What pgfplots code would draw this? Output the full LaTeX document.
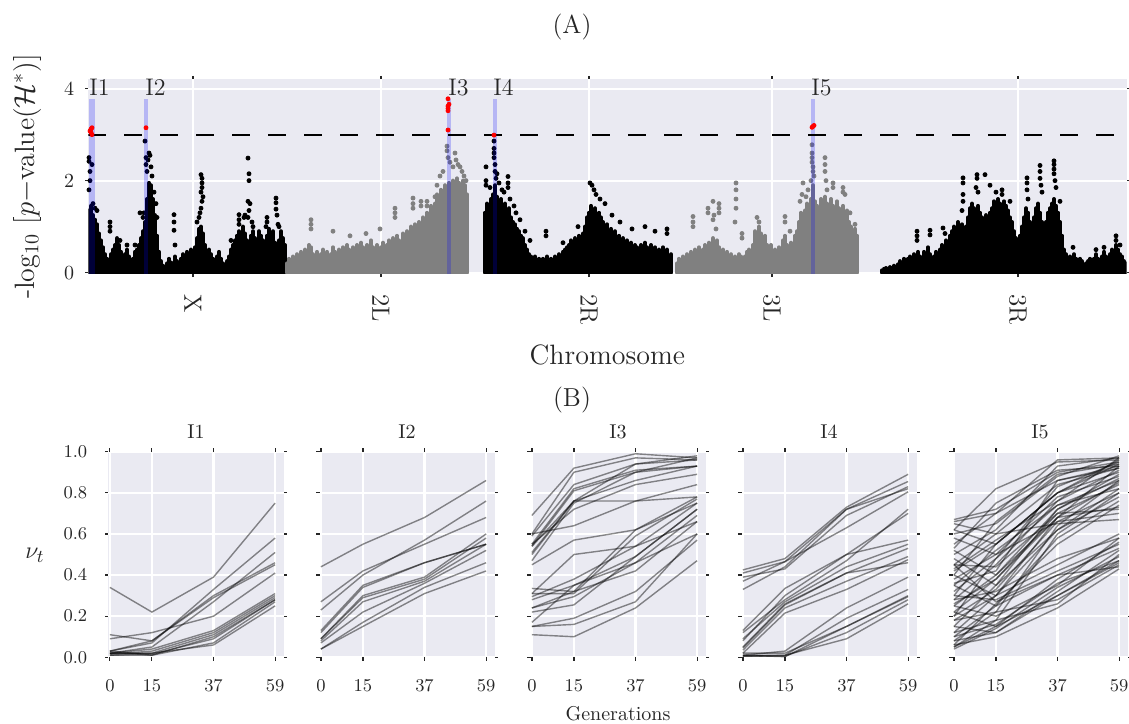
\documentclass[border=0pt]{standalone}
\usepackage{fontspec}
\usepackage{pgfplots}
\pgfplotsset{compat=1.18}
\definecolor{bgc}{RGB}{234,234,242}
\definecolor{txt}{RGB}{38,38,38}
\definecolor{ptgray}{RGB}{128,128,128}
\newcommand{\traj}[4]{\addplot[traj] coordinates {(0,#1)(15,#2)(37,#3)(59,#4)};}
\begin{document}
\begin{tikzpicture}
\useasboundingbox (0pt,0pt) rectangle (564.5pt,361.5pt);
\pgfplotsset{
  sb/.style={scale only axis, axis background/.style={fill=bgc},
    axis line style={draw=none}, grid=major,
    major grid style={white, line width=1.1pt},
    tick align=outside, major tick length=1.6pt,
    tick style={txt, line width=0.6pt}, tick pos=both,
    clip mode=individual, ticklabel style={text=txt}, label style={text=txt}},
  bars/.style={ycomb, line width=2pt, line cap=round, mark=none},
  dots/.style={only marks, mark=*, mark size=1pt},
  traj/.style={black, opacity=0.45, line width=0.7pt, mark=none},
  bp/.style={sb, width=87.5pt, height=102.8pt, xmin=-0.5, xmax=62, ymin=0, ymax=1,
    xtick={0,15,37,59}, ytick={0,0.2,0.4,0.6,0.8,1.0},
    ticklabel style={font=\fontsize{9.5}{11}\selectfont},
    yticklabel style={xshift=-5.5pt, /pgf/number format/.cd, fixed, fixed zerofill, precision=1},
    xticklabel shift=6pt,
    title style={at={(0.5,1)}, anchor=center, yshift=4pt, font=\fontsize{10}{12}\selectfont, text=txt},
    anchor=south west},
}
\node[text=txt, font=\fontsize{13}{15}\selectfont] at (286pt,348pt) {(A)};
\node[text=txt, font=\fontsize{13}{15}\selectfont] at (286pt,161.5pt) {(B)};
\begin{axis}[sb, at={(44.15pt,224.5pt)}, anchor=south west, width=519.1pt, height=97.5pt,
  xmin=88.3, xmax=1126.5, ymin=-0.03, ymax=4.21,
  xtick={193,381,589,772,1018}, xticklabels={X,2L,2R,3L,3R}, ytick={0,2,4},
  xticklabel style={rotate=-90, anchor=west, font=\fontsize{12.5}{14}\selectfont},
  xticklabel shift=5pt,
  yticklabel style={font=\fontsize{10}{12}\selectfont, xshift=-2pt},
  xlabel={Chromosome}, ylabel={-log$_{10}$ [$p-$value($\mathcal{H}^*$)]},
  label style={font=\fontsize{14}{16}\selectfont},
  xlabel style={at={(axis description cs:0.5,0)}, anchor=center, yshift=-40.25pt},
  ylabel style={at={(axis description cs:0,0.5)}, anchor=center, yshift=30.6pt},
]
% X chromosome (black)
\addplot[bars, black] table[row sep=\\] {x y\\
89 1.35\\ 91 1.45\\ 93 1.25\\ 95 1.15\\ 97 1.05\\ 99 0.85\\ 101 0.7\\ 103 0.55\\ 105 0.4\\ 107 0.3\\
109 0.25\\ 111 0.4\\ 113 0.5\\ 115 0.6\\ 117 0.75\\ 119 0.6\\ 121 0.45\\ 123 0.3\\ 125 0.4\\ 127 0.5\\
129 0.35\\ 131 0.25\\ 133 0.3\\ 135 0.45\\ 137 0.5\\ 139 0.6\\ 141 0.75\\ 143 0.9\\ 145 1.1\\ 147 1.6\\
149 1.95\\ 151 1.9\\ 153 1.6\\ 155 1.25\\ 157 0.8\\ 159 0.45\\ 161 0.25\\ 163 0.15\\ 165 0.12\\ 167 0.2\\
169 0.3\\ 171 0.22\\ 173 0.2\\ 175 0.35\\ 177 0.25\\ 179 0.2\\ 181 0.3\\ 183 0.4\\ 185 0.3\\ 187 0.45\\
189 0.35\\ 191 0.5\\ 193 0.4\\ 195 0.55\\ 197 0.75\\ 199 0.95\\ 201 1.0\\ 203 0.85\\ 205 0.6\\ 207 0.45\\
209 0.5\\ 211 0.4\\ 213 0.3\\ 215 0.25\\ 217 0.35\\ 219 0.45\\ 221 0.3\\ 223 0.2\\ 225 0.15\\ 227 0.25\\
229 0.35\\ 231 0.5\\ 233 0.6\\ 235 0.7\\ 237 0.8\\ 239 0.9\\ 241 0.75\\ 243 1.0\\ 245 0.85\\ 247 0.7\\
249 0.6\\ 251 0.8\\ 253 0.9\\ 255 0.75\\ 257 0.65\\ 259 0.9\\ 261 0.8\\ 263 0.7\\ 265 0.6\\ 267 0.8\\
269 0.95\\ 271 0.75\\ 273 0.9\\ 275 0.65\\ 277 0.55\\ 279 0.7\\ 281 0.9\\ 283 0.75\\ 285 0.6\\
};
\addplot[dots, black] table[row sep=\\] {x y\\
89 2.5\\ 89 2.42\\ 90 2.2\\ 90 2.0\\ 89 1.8\\ 92 2.35\\ 93 1.5\\ 95 1.4\\ 97 1.35\\ 110 1.1\\ 110 1.0\\ 110 0.9\\
120 0.7\\ 127 0.6\\ 135 0.6\\ 145 2.86\\ 146 2.5\\ 146 2.35\\ 147 2.2\\ 148 2.45\\ 149 2.6\\ 150 2.55\\
151 2.3\\ 152 2.1\\ 144 1.3\\ 143 1.2\\ 140 1.3\\ 154 1.75\\ 156 1.5\\ 157 1.2\\ 174 1.26\\ 174 1.1\\
174 0.92\\ 175 0.6\\ 201 2.13\\ 202 2.05\\ 202 1.95\\ 202 1.85\\ 201 1.75\\ 203 1.65\\ 202 1.55\\ 201 1.4\\
200 1.3\\ 199 1.2\\ 197 1.1\\ 231 0.7\\ 239 1.26\\ 239 1.15\\ 239 1.05\\ 244 1.2\\ 245 1.25\\ 248 2.49\\
249 2.15\\ 249 2.0\\ 248 1.55\\ 250 1.5\\ 249 1.35\\ 248 1.2\\ 252 1.1\\ 253 1.0\\ 267 1.2\\ 267 1.1\\
266 1.0\\ 276 1.62\\ 276 1.52\\ 276 1.38\\ 277 1.25\\ 278 1.05\\ 279 1.0\\
};
% 2L (gray)
\addplot[bars, ptgray] table[row sep=\\] {x y\\
287 0.2\\ 289 0.3\\ 291 0.25\\ 293 0.35\\ 295 0.3\\ 297 0.4\\ 299 0.35\\ 301 0.45\\ 303 0.3\\ 305 0.5\\
307 0.4\\ 309 0.6\\ 311 0.55\\ 313 0.4\\ 315 0.35\\ 317 0.45\\ 319 0.3\\ 321 0.4\\ 323 0.5\\ 325 0.35\\
327 0.45\\ 329 0.3\\ 331 0.4\\ 333 0.55\\ 335 0.45\\ 337 0.35\\ 339 0.5\\ 341 0.4\\ 343 0.55\\ 345 0.45\\
347 0.6\\ 349 0.5\\ 351 0.4\\ 353 0.55\\ 355 0.45\\ 357 0.6\\ 359 0.5\\ 361 0.65\\ 363 0.55\\ 365 0.45\\
367 0.6\\ 369 0.5\\ 371 0.7\\ 373 0.55\\ 375 0.45\\ 377 0.6\\ 379 0.5\\ 381 0.55\\ 383 0.65\\ 385 0.5\\
387 0.6\\ 389 0.7\\ 391 0.55\\ 393 0.75\\ 395 0.6\\ 397 0.8\\ 399 0.7\\ 401 0.6\\ 403 0.85\\ 405 0.75\\
407 0.9\\ 409 0.8\\ 411 1.0\\ 413 0.85\\ 415 1.05\\ 417 0.95\\ 419 1.1\\ 421 1.0\\ 423 1.2\\ 425 1.1\\
427 1.3\\ 429 1.2\\ 431 1.45\\ 433 1.35\\ 435 1.5\\ 437 1.7\\ 439 1.6\\ 441 1.8\\ 443 1.7\\ 445 1.9\\
447 1.8\\ 449 1.95\\ 451 1.85\\ 453 2.0\\ 455 1.9\\ 457 2.05\\ 459 1.95\\ 461 1.85\\ 463 2.0\\ 465 1.9\\
467 1.7\\
};
\addplot[dots, ptgray] table[row sep=\\] {x y\\
311 1.15\\ 311 1.05\\ 311 0.95\\ 333 0.9\\ 350 0.8\\ 366 0.85\\ 380 0.95\\ 395 1.4\\ 395 1.3\\ 395 1.2\\
413 1.62\\ 413 1.5\\ 413 1.4\\ 421 1.55\\ 421 1.45\\ 427 1.55\\ 427 1.45\\ 435 1.65\\ 437 1.9\\ 440 2.1\\
443 2.2\\ 447 2.75\\ 447 2.65\\ 448 2.5\\ 450 2.4\\ 453 2.3\\ 455 2.6\\ 456 2.45\\ 458 2.35\\ 460 2.3\\
462 2.2\\ 464 2.1\\ 466 2.0\\
};
% 2R (black)
\addplot[bars, black] table[row sep=\\] {x y\\
485 1.3\\ 487 1.5\\ 489 1.45\\ 491 1.6\\ 493 1.7\\ 495 1.9\\ 497 1.65\\ 499 1.55\\ 501 1.6\\ 503 1.45\\
505 1.5\\ 507 1.35\\ 509 1.4\\ 511 1.2\\ 513 1.1\\ 515 1.05\\ 517 0.95\\ 519 0.9\\ 521 0.8\\ 523 0.75\\
525 0.6\\ 527 0.5\\ 529 0.4\\ 531 0.35\\ 533 0.3\\ 535 0.35\\ 537 0.25\\ 539 0.3\\ 541 0.2\\ 543 0.3\\
545 0.25\\ 547 0.35\\ 549 0.2\\ 551 0.3\\ 553 0.25\\ 555 0.35\\ 557 0.3\\ 559 0.4\\ 561 0.3\\ 563 0.45\\
565 0.5\\ 567 0.55\\ 569 0.6\\ 571 0.7\\ 573 0.65\\ 575 0.75\\ 577 0.7\\ 579 0.8\\ 581 0.75\\ 583 0.85\\
585 1.0\\ 587 1.2\\ 589 1.3\\ 591 1.45\\ 593 1.35\\ 595 1.4\\ 597 1.25\\ 599 1.3\\ 601 1.2\\ 603 1.1\\
605 1.0\\ 607 1.05\\ 609 0.9\\ 611 0.95\\ 613 0.85\\ 615 0.9\\ 617 0.75\\ 619 0.8\\ 621 0.7\\ 623 0.75\\
625 0.6\\ 627 0.7\\ 629 0.55\\ 631 0.65\\ 633 0.5\\ 635 0.6\\ 637 0.55\\ 639 0.45\\ 641 0.6\\ 643 0.5\\
645 0.65\\ 647 0.55\\ 649 0.45\\ 651 0.6\\ 653 0.5\\ 655 0.55\\ 657 0.45\\ 659 0.5\\ 661 0.4\\ 663 0.55\\
665 0.45\\ 667 0.5\\ 669 0.35\\ 671 0.4\\
};
\addplot[dots, black] table[row sep=\\] {x y\\
486 2.3\\ 486 2.0\\ 486 1.9\\ 490 1.85\\ 494 2.86\\ 494 2.7\\ 494 2.6\\ 494 2.5\\ 495 2.35\\ 495 2.2\\
496 2.05\\ 497 2.15\\ 499 1.95\\ 502 1.8\\ 504 1.75\\ 508 2.09\\ 508 1.95\\ 508 1.85\\ 510 1.6\\ 514 1.45\\
516 1.3\\ 520 1.15\\ 525 0.9\\ 530 0.7\\ 546 0.9\\ 546 0.8\\ 563 0.65\\ 578 1.0\\ 590 1.95\\ 592 1.9\\
594 1.8\\ 596 1.7\\ 600 1.6\\ 605 1.5\\ 612 1.25\\ 620 1.1\\ 632 0.95\\ 645 1.0\\ 655 0.9\\ 667 0.95\\
667 0.85\\
};
% 3L (gray)
\addplot[bars, ptgray] table[row sep=\\] {x y\\
677 0.2\\ 679 0.3\\ 681 0.25\\ 683 0.35\\ 685 0.3\\ 687 0.4\\ 689 0.35\\ 691 0.45\\ 693 0.4\\ 695 0.5\\
697 0.45\\ 699 0.55\\ 701 0.4\\ 703 0.5\\ 705 0.6\\ 707 0.5\\ 709 0.65\\ 711 0.55\\ 713 0.75\\ 715 0.6\\
717 0.7\\ 719 0.55\\ 721 0.45\\ 723 0.5\\ 725 0.4\\ 727 0.45\\ 729 0.35\\ 731 0.4\\ 733 0.3\\ 735 0.35\\
737 0.3\\ 739 0.4\\ 741 0.35\\ 743 0.3\\ 745 0.35\\ 747 0.45\\ 749 0.5\\ 751 0.4\\ 753 0.6\\ 755 0.9\\
757 0.8\\ 759 1.0\\ 761 0.85\\ 763 0.7\\ 765 0.8\\ 767 0.6\\ 769 0.5\\ 771 0.6\\ 773 0.45\\ 775 0.5\\
777 0.4\\ 779 0.55\\ 781 0.45\\ 783 0.7\\ 785 0.8\\ 787 0.6\\ 789 0.5\\ 791 0.65\\ 793 0.55\\ 795 0.8\\
797 0.9\\ 799 1.1\\ 801 1.3\\ 803 1.2\\ 805 1.35\\ 807 1.5\\ 809 1.45\\ 811 1.6\\ 813 1.9\\ 815 1.55\\
817 1.45\\ 819 1.4\\ 821 1.6\\ 823 1.45\\ 825 1.65\\ 827 1.5\\ 829 1.4\\ 831 1.6\\ 833 1.45\\ 835 1.35\\
837 1.55\\ 839 1.4\\ 841 1.3\\ 843 1.45\\ 845 1.25\\ 847 1.35\\ 849 1.1\\ 851 1.0\\ 853 0.9\\ 855 0.95\\
857 0.8\\
};
\addplot[dots, ptgray] table[row sep=\\] {x y\\
693 1.22\\ 693 1.1\\ 693 1.0\\ 708 1.4\\ 708 1.3\\ 713 1.55\\ 714 1.25\\ 713 1.15\\ 716 0.95\\ 736 1.95\\
736 1.8\\ 736 1.6\\ 736 1.4\\ 735 1.1\\ 719 1.5\\ 719 1.4\\ 719 1.3\\ 742 0.85\\ 742 0.75\\ 757 1.2\\
759 1.1\\ 785 1.22\\ 785 1.1\\ 790 0.9\\ 800 1.55\\ 802 1.7\\ 803 1.95\\ 806 1.65\\ 808 1.8\\ 811 2.0\\
812 2.78\\ 812 2.6\\ 812 2.5\\ 812 2.4\\ 813 2.3\\ 813 2.2\\ 814 2.1\\ 825 2.5\\ 825 2.35\\ 825 2.2\\
826 2.0\\ 827 1.8\\ 833 1.95\\ 833 1.85\\ 843 1.85\\ 843 1.75\\ 845 1.7\\ 850 1.3\\ 855 1.05\\
};
% 3R (black)
\addplot[bars, black] table[row sep=\\] {x y\\
882 0.05\\ 884 0.08\\ 886 0.1\\ 888 0.08\\ 890 0.12\\ 892 0.1\\ 894 0.15\\ 896 0.12\\ 898 0.18\\ 900 0.25\\
902 0.2\\ 904 0.3\\ 906 0.25\\ 908 0.3\\ 910 0.35\\ 912 0.25\\ 914 0.4\\ 916 0.3\\ 918 0.45\\ 920 0.35\\
922 0.3\\ 924 0.45\\ 926 0.4\\ 928 0.55\\ 930 0.4\\ 932 0.3\\ 934 0.35\\ 936 0.45\\ 938 0.4\\ 940 0.5\\
942 0.6\\ 944 0.5\\ 946 0.7\\ 948 0.6\\ 950 0.8\\ 952 0.9\\ 954 1.0\\ 956 0.85\\ 958 1.1\\ 960 0.9\\
962 1.05\\ 964 0.9\\ 966 1.0\\ 968 1.2\\ 970 1.4\\ 972 1.5\\ 974 1.4\\ 976 1.3\\ 978 1.45\\ 980 1.3\\
982 1.2\\ 984 1.1\\ 986 1.25\\ 988 1.15\\ 990 1.3\\ 992 1.4\\ 994 1.55\\ 996 1.45\\ 998 1.6\\ 1000 1.5\\
1002 1.4\\ 1004 1.55\\ 1006 1.45\\ 1008 1.35\\ 1010 1.2\\ 1012 1.1\\ 1014 0.9\\ 1016 0.75\\ 1018 0.6\\ 1020 0.8\\
1022 1.0\\ 1024 1.2\\ 1026 1.4\\ 1028 1.3\\ 1030 1.1\\ 1032 1.0\\ 1034 1.2\\ 1036 1.4\\ 1038 1.5\\ 1040 1.3\\
1042 1.1\\ 1044 0.9\\ 1046 1.1\\ 1048 1.3\\ 1050 1.4\\ 1052 1.5\\ 1054 1.6\\ 1056 1.45\\ 1058 1.3\\ 1060 1.1\\
1062 0.8\\ 1064 0.5\\ 1066 0.4\\ 1068 0.3\\ 1070 0.35\\ 1072 0.25\\ 1074 0.4\\ 1076 0.3\\ 1078 0.2\\ 1080 0.3\\
1082 0.25\\ 1084 0.15\\ 1086 0.2\\ 1088 0.25\\ 1090 0.3\\ 1092 0.2\\ 1094 0.3\\ 1096 0.4\\ 1098 0.3\\ 1100 0.25\\
1102 0.35\\ 1104 0.45\\ 1106 0.35\\ 1108 0.3\\ 1110 0.4\\ 1112 0.5\\ 1114 0.45\\ 1116 0.6\\ 1118 0.5\\ 1120 0.4\\
1122 0.35\\ 1124 0.25\\ 1126 0.2\\
};
\addplot[dots, black] table[row sep=\\] {x y\\
917 0.9\\ 917 0.8\\ 917 0.7\\ 930 0.92\\ 930 0.82\\ 943 0.97\\ 945 0.85\\ 963 2.06\\ 963 1.95\\ 963 1.7\\
963 1.55\\ 962 1.35\\ 977 2.13\\ 977 2.05\\ 976 1.85\\ 978 1.75\\ 985 2.13\\ 990 1.9\\ 996 1.75\\ 1002 1.8\\
1002 1.7\\ 1010 1.55\\ 1027 2.06\\ 1027 1.95\\ 1027 1.8\\ 1028 1.6\\ 1040 2.33\\ 1040 2.2\\ 1040 2.05\\ 1041 1.9\\
1042 1.75\\ 1054 2.43\\ 1054 2.35\\ 1054 2.25\\ 1054 2.15\\ 1055 2.0\\ 1056 1.85\\ 1060 1.55\\ 1073 0.55\\ 1096 0.5\\
1104 0.55\\ 1116 0.8\\ 1116 0.7\\ 1120 0.6\\
};
% candidate intervals
\addplot[blue, opacity=0.22, line width=3pt] coordinates {(91.7,-0.03)(91.7,3.78)};
\addplot[blue, opacity=0.22, line width=2pt] coordinates {(146,-0.03)(146,3.78)};
\addplot[blue, opacity=0.22, line width=2pt] coordinates {(449,-0.03)(449,3.78)};
\addplot[blue, opacity=0.22, line width=2pt] coordinates {(494.5,-0.03)(494.5,3.78)};
\addplot[blue, opacity=0.22, line width=2pt] coordinates {(813,-0.03)(813,3.78)};
\addplot[black, line width=0.9pt, dash pattern=on 9pt off 9pt] coordinates {(88.3,3)(1126.5,3)};
\addplot[dots, red] table[row sep=\\] {x y\\
91 3.05\\ 91 3.12\\ 92 3.0\\ 90 3.08\\ 92 3.15\\ 146 3.15\\ 448 3.78\\ 448 3.62\\ 448 3.57\\ 448 3.52\\
449 3.66\\ 448 3.1\\ 494 2.99\\ 813 3.18\\ 814 3.2\\ 812 3.16\\
};
\node[anchor=west, inner sep=0pt, text=txt, font=\fontsize{12}{14}\selectfont] at (axis cs:89,4.03) {I1};
\node[anchor=west, inner sep=0pt, text=txt, font=\fontsize{12}{14}\selectfont] at (axis cs:145,4.03) {I2};
\node[anchor=west, inner sep=0pt, text=txt, font=\fontsize{12}{14}\selectfont] at (axis cs:448,4.03) {I3};
\node[anchor=west, inner sep=0pt, text=txt, font=\fontsize{12}{14}\selectfont] at (axis cs:493,4.03) {I4};
\node[anchor=west, inner sep=0pt, text=txt, font=\fontsize{12}{14}\selectfont] at (axis cs:811,4.03) {I5};
\end{axis}
% ---------- panel I1
\begin{axis}[bp, at={(54.25pt,32.85pt)}, title={I1}, ylabel={$\nu_t$},
  ylabel style={at={(axis description cs:0,0.5)}, anchor=center, rotate=-90, xshift=-36.75pt, yshift=-0.5pt, font=\fontsize{13}{15}\selectfont}]
\traj{0.34}{0.22}{0.39}{0.75}
\traj{0.09}{0.12}{0.20}{0.41}
\traj{0.11}{0.08}{0.30}{0.46}
\traj{0.03}{0.08}{0.29}{0.45}
\traj{0.03}{0.07}{0.33}{0.58}
\traj{0.02}{0.05}{0.27}{0.51}
\traj{0.02}{0.04}{0.13}{0.31}
\traj{0.015}{0.03}{0.12}{0.30}
\traj{0.01}{0.02}{0.11}{0.29}
\traj{0.03}{0.01}{0.10}{0.28}
\traj{0.02}{0.015}{0.09}{0.28}
\traj{0.01}{0.01}{0.07}{0.27}
\traj{0.02}{0.02}{0.06}{0.25}
\end{axis}
% ---------- panel I2
\begin{axis}[bp, at={(159.75pt,32.85pt)}, title={I2}, yticklabels={}]
\traj{0.44}{0.55}{0.68}{0.86}
\traj{0.27}{0.42}{0.55}{0.68}
\traj{0.23}{0.40}{0.57}{0.76}
\traj{0.13}{0.35}{0.46}{0.55}
\traj{0.12}{0.34}{0.46}{0.55}
\traj{0.09}{0.30}{0.39}{0.60}
\traj{0.09}{0.29}{0.38}{0.58}
\traj{0.08}{0.27}{0.37}{0.55}
\traj{0.07}{0.22}{0.36}{0.52}
\traj{0.04}{0.17}{0.34}{0.46}
\traj{0.04}{0.15}{0.31}{0.42}
\end{axis}
% ---------- panel I3
\begin{axis}[bp, at={(265.25pt,32.85pt)}, title={I3}, yticklabels={}, xlabel={Generations},
  xlabel style={at={(axis description cs:0.5,0)}, anchor=center, yshift=-28.3pt, font=\fontsize{10}{12}\selectfont}]
\traj{0.69}{0.92}{0.99}{0.97}
\traj{0.60}{0.90}{0.97}{0.96}
\traj{0.59}{0.84}{0.94}{0.98}
\traj{0.55}{0.82}{0.91}{0.93}
\traj{0.54}{0.81}{0.90}{0.97}
\traj{0.51}{0.76}{0.86}{0.93}
\traj{0.47}{0.75}{0.90}{0.93}
\traj{0.55}{0.72}{0.84}{0.89}
\traj{0.50}{0.76}{0.94}{0.96}
\traj{0.60}{0.64}{0.76}{0.84}
\traj{0.54}{0.76}{0.76}{0.78}
\traj{0.45}{0.57}{0.62}{0.75}
\traj{0.31}{0.50}{0.54}{0.66}
\traj{0.335}{0.32}{0.62}{0.78}
\traj{0.31}{0.31}{0.59}{0.77}
\traj{0.295}{0.38}{0.54}{0.75}
\traj{0.28}{0.35}{0.49}{0.72}
\traj{0.24}{0.295}{0.46}{0.69}
\traj{0.22}{0.255}{0.49}{0.72}
\traj{0.24}{0.32}{0.42}{0.66}
\traj{0.17}{0.35}{0.46}{0.60}
\traj{0.15}{0.19}{0.32}{0.57}
\traj{0.11}{0.10}{0.24}{0.47}
\traj{0.15}{0.16}{0.27}{0.60}
\end{axis}
% ---------- panel I4
\begin{axis}[bp, at={(370.75pt,32.85pt)}, title={I4}, yticklabels={}]
\traj{0.425}{0.48}{0.73}{0.89}
\traj{0.41}{0.465}{0.72}{0.855}
\traj{0.39}{0.43}{0.69}{0.83}
\traj{0.37}{0.465}{0.63}{0.805}
\traj{0.33}{0.44}{0.72}{0.82}
\traj{0.13}{0.335}{0.50}{0.57}
\traj{0.12}{0.28}{0.47}{0.72}
\traj{0.09}{0.27}{0.44}{0.55}
\traj{0.045}{0.255}{0.41}{0.53}
\traj{0.035}{0.24}{0.37}{0.49}
\traj{0.02}{0.215}{0.33}{0.475}
\traj{0.08}{0.30}{0.50}{0.70}
\traj{0.05}{0.26}{0.41}{0.46}
\traj{0.01}{0.03}{0.24}{0.39}
\traj{0.005}{0.01}{0.19}{0.33}
\traj{0.01}{0.003}{0.15}{0.295}
\traj{0.005}{0.005}{0.12}{0.28}
\traj{0.01}{0.01}{0.09}{0.26}
\traj{0.02}{0.02}{0.15}{0.30}
\end{axis}
% ---------- panel I5
\begin{axis}[bp, at={(476.25pt,32.85pt)}, title={I5}, yticklabels={}]
\traj{0.66}{0.70}{0.96}{0.97}
\traj{0.62}{0.82}{0.95}{0.96}
\traj{0.67}{0.72}{0.90}{0.95}
\traj{0.60}{0.65}{0.88}{0.98}
\traj{0.55}{0.70}{0.86}{0.93}
\traj{0.50}{0.62}{0.93}{0.97}
\traj{0.45}{0.60}{0.84}{0.92}
\traj{0.42}{0.55}{0.80}{0.90}
\traj{0.40}{0.66}{0.89}{0.94}
\traj{0.38}{0.50}{0.78}{0.88}
\traj{0.35}{0.52}{0.74}{0.86}
\traj{0.32}{0.48}{0.83}{0.95}
\traj{0.28}{0.45}{0.76}{0.91}
\traj{0.25}{0.40}{0.72}{0.87}
\traj{0.22}{0.38}{0.70}{0.84}
\traj{0.20}{0.33}{0.66}{0.80}
\traj{0.18}{0.30}{0.68}{0.93}
\traj{0.15}{0.35}{0.72}{0.89}
\traj{0.12}{0.30}{0.62}{0.82}
\traj{0.10}{0.25}{0.58}{0.76}
\traj{0.08}{0.22}{0.64}{0.86}
\traj{0.06}{0.26}{0.55}{0.74}
\traj{0.05}{0.18}{0.60}{0.80}
\traj{0.45}{0.44}{0.70}{0.72}
\traj{0.52}{0.40}{0.68}{0.85}
\traj{0.48}{0.35}{0.62}{0.78}
\traj{0.65}{0.60}{0.65}{0.67}
\traj{0.58}{0.50}{0.66}{0.70}
\traj{0.43}{0.57}{0.76}{0.97}
\traj{0.30}{0.55}{0.80}{0.96}
\traj{0.62}{0.55}{0.80}{0.94}
\traj{0.36}{0.42}{0.86}{0.92}
\traj{0.53}{0.75}{0.91}{0.93}
\traj{0.20}{0.48}{0.74}{0.82}
\traj{0.26}{0.38}{0.68}{0.73}
\traj{0.25}{0.20}{0.35}{0.58}
\traj{0.30}{0.28}{0.42}{0.55}
\traj{0.22}{0.15}{0.30}{0.47}
\traj{0.18}{0.22}{0.28}{0.45}
\traj{0.12}{0.18}{0.26}{0.50}
\traj{0.08}{0.12}{0.32}{0.52}
\traj{0.05}{0.15}{0.38}{0.56}
\traj{0.06}{0.10}{0.24}{0.43}
\traj{0.10}{0.16}{0.36}{0.47}
\traj{0.40}{0.30}{0.45}{0.60}
\traj{0.35}{0.25}{0.40}{0.53}
\traj{0.15}{0.12}{0.30}{0.46}
\traj{0.28}{0.32}{0.48}{0.58}
\traj{0.04}{0.14}{0.34}{0.49}
\traj{0.45}{0.27}{0.40}{0.44}
\end{axis}
\end{tikzpicture}
\end{document}
